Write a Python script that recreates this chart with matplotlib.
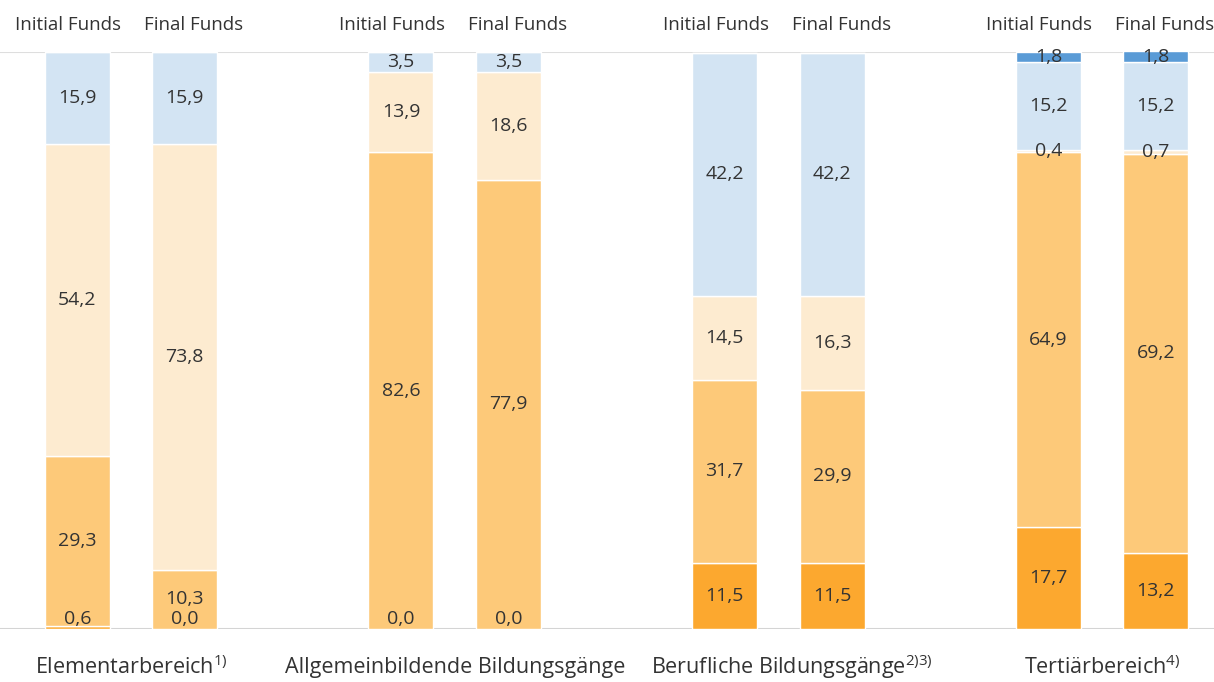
import matplotlib.pyplot as plt
import numpy as np

plt.rcParams['font.family'] = ['Open Sans', 'DejaVu Sans']
plt.rcParams['mathtext.fontset'] = 'custom'
plt.rcParams['mathtext.rm'] = 'Open Sans'

# data
categories = ['Elementarbereich$^{\\mathrm{1)}}$',
              'Allgemeinbildende Bildungsgänge',
              'Berufliche Bildungsgänge$^{\\mathrm{2)3)}}$',
              'Tertiärbereich$^{\\mathrm{4)}}$']
barLabels = ['Initial Funds', 'Final Funds']

# one list per stack level, bottom to top, bars ordered Initial/Final per category
level1 = [0.6, 0.0, 0.0, 0.0, 11.5, 11.5, 17.7, 13.2]
level2 = [29.3, 10.3, 82.6, 77.9, 31.7, 29.9, 64.9, 69.2]
level3 = [54.2, 73.8, 13.9, 18.6, 14.5, 16.3, 0.4, 0.7]
level4 = [15.9, 15.9, 3.5, 3.5, 42.2, 42.2, 15.2, 15.2]
level5 = [0.0, 0.0, 0.0, 0.0, 0.0, 0.0, 1.8, 1.8]
levels = [level1, level2, level3, level4, level5]
showLevel5 = [False, False, False, False, False, False, True, True]

colors = ['#fca82f', '#fdc979', '#fdebd0', '#d3e4f3', '#5a9bd6']
textColor = '#333333'

fig = plt.figure(figsize=(12.14, 6.82), dpi=100)
ax = fig.add_axes([0, 1 - 629 / 682, 1, (629 - 52) / 682])

offset = 0.166
width = 0.201
xs = []
for g in range(len(categories)):
    xs += [g - offset, g + offset]
xs = np.array(xs)

bottom = np.zeros(len(xs))
for li, vals in enumerate(levels):
    vals = np.array(vals)
    ax.bar(xs, vals, width, bottom=bottom, color=colors[li],
           edgecolor='white', linewidth=1.0, zorder=2)
    for i, v in enumerate(vals):
        if li == 4 and not showLevel5[i]:
            continue
        label = ('%.1f' % v).replace('.', ',')
        if li == 0 and v < 5:
            # small / zero bottom segments: label sits just above baseline
            ax.text(xs[i], 0.2, label, ha='center', va='bottom',
                    fontsize=14, color=textColor, zorder=3)
            continue
        ax.text(xs[i], bottom[i] + v / 2, label, ha='center', va='center',
                fontsize=14, color=textColor, zorder=3)
    bottom += vals

ax.axhline(100, color='#dedede', linewidth=1.5, zorder=1)
ax.axhline(0, color='#d4d4d4', linewidth=1.5, zorder=1)

# header labels sit slightly outward from their bars
for i, x in enumerate(xs):
    nudge = -0.028 if i % 2 == 0 else 0.028
    ax.text(x + nudge, 1.047, barLabels[i % 2], transform=ax.get_xaxis_transform(),
            ha='center', va='center', fontsize=13.5, color=textColor)

catNudge = [0, 0, 0.043, 0]
for g, cat in enumerate(categories):
    ax.text(g + catNudge[g], -0.066, cat, transform=ax.get_xaxis_transform(),
            ha='center', va='center', fontsize=15.5, color=textColor)

ax.set_xlim(-131 / 323.7, (1214 - 131) / 323.7)
ax.set_ylim(0, 100)
ax.axis('off')

fig.savefig('out.png', dpi=100)
